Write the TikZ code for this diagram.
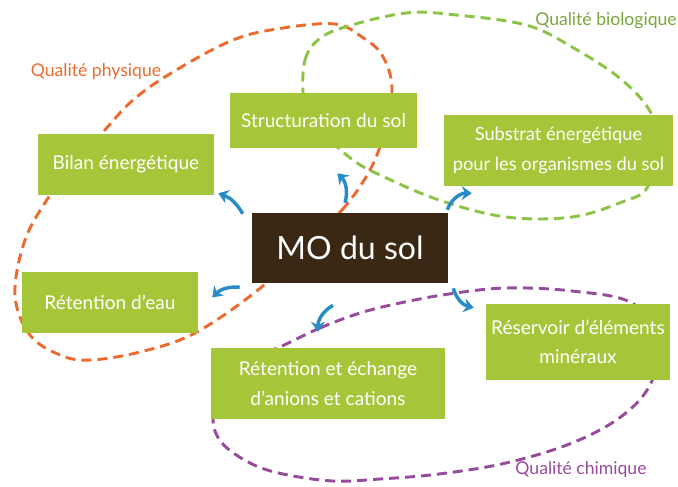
\documentclass[tikz,border=0pt]{standalone}
\usepackage{fontspec}
\setmainfont{Lato}
\usetikzlibrary{arrows.meta,calc}
\definecolor{boxgreen}{RGB}{166,198,58}
\definecolor{mobrown}{RGB}{58,40,20}
\definecolor{physorange}{RGB}{237,106,46}
\definecolor{biogreen}{RGB}{140,195,70}
\definecolor{chimpurple}{RGB}{150,75,155}
\definecolor{arrowblue}{RGB}{40,140,200}
\begin{document}
\begin{tikzpicture}[x=0.75pt,y=-0.75pt,
  gbox/.style={fill=boxgreen,text=white,inner sep=0pt,align=center,
    font=\fontsize{14.3}{23}\selectfont},
  mobox/.style={fill=mobrown,text=white,inner sep=0pt,
    font=\fontsize{24}{28}\selectfont},
  loop/.style={line width=2.2pt,dash pattern=on 7.5pt off 4.5pt},
  arr/.style={draw=arrowblue,line width=2.6pt,
    -{Stealth[length=7.5pt,width=10.5pt]}},
  qlabel/.style={font=\fontsize{13.2}{16}\selectfont,inner sep=0pt}]
\useasboundingbox (0,0) rectangle (678,486);
% dashed quality loops
\draw[loop,draw=physorange] plot[smooth cycle,tension=0.6] coordinates {
  (300,250) (342,210) (370,170) (385,130) (392,87) (382,55) (362,37) (335,24)
  (283,28) (233,40) (173,72) (133,100) (102,133) (75,160) (50,195) (25,240)
  (15,295) (30,335) (60,355) (90,360) (140,352) (195,333) (258,290)};
\draw[loop,draw=biogreen] plot[smooth cycle,tension=0.6] coordinates {
  (303,92) (305,60) (318,40) (345,27) (406,13) (456,15) (526,25) (572,47)
  (622,80) (652,115) (655,150) (647,188) (622,202) (572,217) (506,217)
  (439,200) (380,175) (353,160) (325,135) (308,112)};
\draw[loop,draw=chimpurple] plot[smooth cycle,tension=0.6] coordinates {
  (282,346) (320,328) (360,313) (400,303) (449,294) (506,288) (572,291)
  (632,303) (658,340) (651,383) (622,416) (572,443) (506,463) (439,474)
  (380,479) (333,481) (283,474) (250,463) (222,443) (213,419) (222,388)
  (250,360)};
% boxes
\node[gbox,minimum width=140.25pt,minimum height=41.25pt] (struct) at (323.5,120.5) {Structuration du sol};
\node[gbox,minimum width=132pt,minimum height=45.75pt] (bilan) at (126,164.5) {Bilan énergétique};
\node[gbox,minimum width=171.75pt,minimum height=53.25pt,font=\fontsize{13.7}{23}\selectfont] (substrat) at (558.5,150.5) {Substrat énergétique\\pour les organismes du sol};
\node[mobox,minimum width=147pt,minimum height=52.5pt] (mo) at (350,248) {MO du sol};
\node[gbox,minimum width=132pt,minimum height=45.75pt] (eau) at (110,302.5) {Rétention d’eau};
\node[gbox,minimum width=175.5pt,minimum height=53.25pt] (echange) at (328,383.5) {Rétention et échange\\d’anions et cations};
\node[gbox,minimum width=138pt,minimum height=57pt,font=\fontsize{14.3}{22}\selectfont] (reservoir) at (578,342) {Réservoir d’éléments\\minéraux};
% labels
\node[qlabel,text=physorange] (lphys) at (96,72) {Qualité physique};
\node[qlabel,text=biogreen!85!black] (lbio) at (606,21) {Qualité biologique};
\node[qlabel,text=chimpurple] (lchim) at (581,470) {Qualité chimique};
% arrows
\draw[arr] ($(mo.north west)+(-9,1)$) to[bend right=20] ($(bilan.south east)+(4,-2)$);
\draw[arr] ($(mo.north)+(-5,-10)$) to[bend right=30] ($(struct.south)+(14,25)$);
\draw[arr] ($(mo.north east)+(-1,-3)$) to[bend left=35] ($(substrat.south west)+(28,7)$);
\draw[arr] ($(mo.south west)+(-12,4)$) to[bend right=25] ($(eau.east)+(14,-5)$);
\draw[arr] ($(mo.south)+(-17,22)$) to[bend right=30] ($(echange.north)+(-10,-16)$);
\draw[arr] ($(mo.south east)+(5,5)$) to[bend right=30] ($(reservoir.north west)+(-12,4)$);
\end{tikzpicture}
\end{document}
